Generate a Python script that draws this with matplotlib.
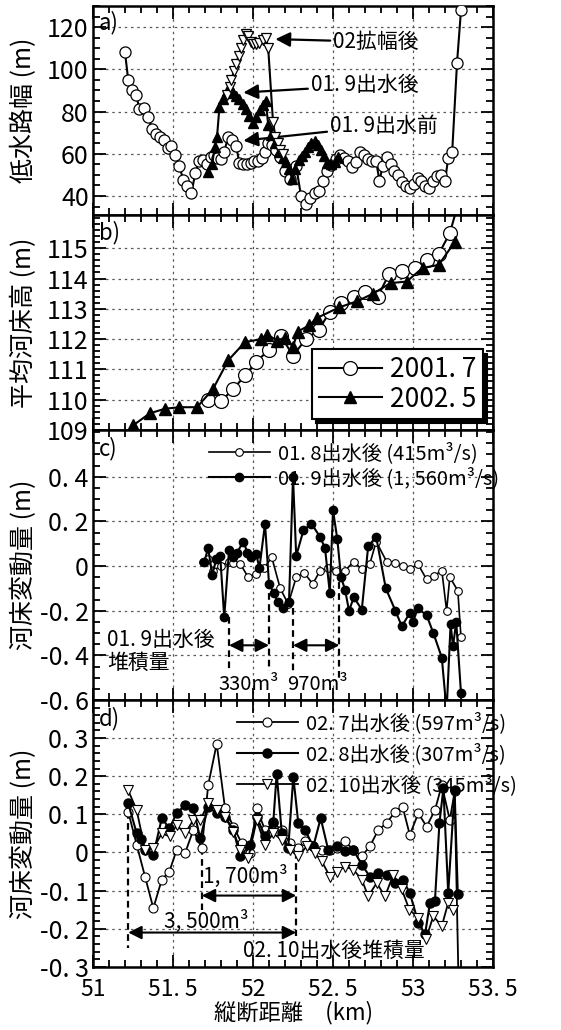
import matplotlib
matplotlib.use('Agg')
import matplotlib.pyplot as plt
from matplotlib.ticker import MultipleLocator

plt.rcParams['font.family'] = ['Noto Sans CJK JP', 'DejaVu Sans']
NUM_FONT = ['Liberation Sans Narrow', 'Noto Sans CJK JP', 'DejaVu Sans']

# a) low-water channel width (m)
a_x_before = [51.20, 51.22, 51.245, 51.27, 51.29, 51.32, 51.345, 51.37, 51.395, 51.42,
              51.445, 51.47, 51.49, 51.515, 51.54, 51.565, 51.59, 51.615, 51.64, 51.66,
              51.685, 51.71, 51.735, 51.755, 51.775, 51.80, 51.82, 51.845, 51.87, 51.895,
              51.915, 51.94, 51.965, 51.985, 52.005, 52.03, 52.055, 52.075, 52.095, 52.12,
              52.145, 52.17, 52.20, 52.23, 52.27, 52.30, 52.33, 52.355, 52.385, 52.41,
              52.44, 52.465, 52.49, 52.52, 52.545, 52.57, 52.595, 52.62, 52.645, 52.67,
              52.695, 52.72, 52.745, 52.77, 52.79, 52.81, 52.835, 52.86, 52.88, 52.905,
              52.93, 52.955, 52.98, 53.005, 53.03, 53.05, 53.075, 53.10, 53.125, 53.15,
              53.175, 53.20, 53.22, 53.245, 53.275, 53.30]
a_y_before = [108, 95, 90, 88, 81, 81.5, 77.5, 71.5, 69.5, 68,
              66.5, 62.5, 63.5, 59.5, 54, 47.5, 44.5, 41.5, 51, 56.5,
              57, 55, 58.5, 59.5, 58, 57.5, 61, 68, 66.5, 63.5,
              55.5, 55, 55, 55.5, 56.5, 56.5, 58, 61, 65, 64,
              62, 58.5, 52, 48, 54, 40, 36, 39, 41.5, 42.5,
              47, 52, 54.5, 57.5, 59.5, 58, 56.5, 53.5, 56, 61,
              59.5, 57.5, 56.5, 56.5, 47, 54, 58.5, 55, 52, 50,
              46.5, 44.5, 44, 45.5, 48.5, 47, 44.5, 44, 47, 49.5,
              50, 47, 58, 61, 103, 128]
a_x_after = [51.72, 51.745, 51.76, 51.775, 51.79, 51.81, 51.835, 51.855, 51.875, 51.895,
             51.915, 51.935, 51.955, 51.975, 52.0, 52.02, 52.045, 52.065, 52.08, 52.095,
             52.115, 52.135, 52.16, 52.185, 52.205, 52.225, 52.245, 52.265, 52.285, 52.305,
             52.325, 52.345, 52.365, 52.385, 52.405, 52.425, 52.445, 52.465, 52.49, 52.51,
             52.53]
a_y_after = [51.5, 55, 63, 68, 82, 86, 89.5, 91.5, 89, 87.5,
             86, 83.5, 81, 78, 74.5, 77.5, 80.5, 83, 85, 73.5,
             69, 65, 61, 58, 56, 53, 48, 53, 57, 59,
             61, 63, 65, 66, 64, 62, 59, 55.5, 55, 56,
             58.5]
a_x_widen = [51.84, 51.855, 51.865, 51.88, 51.895, 51.91, 51.925, 51.94, 51.955, 51.97,
             51.985, 52.0, 52.02, 52.04, 52.06, 52.08, 52.095, 52.125, 52.14, 52.155,
             52.17, 52.185]
a_y_widen = [88, 91.5, 95, 99, 102.5, 106.5, 110, 114, 116.5, 116,
             113, 112, 112, 112.5, 114, 115, 110, 75, 68, 65,
             62, 60]

# b) mean bed elevation (m)
b_x_2001 = [51.72, 51.80, 51.877, 51.95, 52.02, 52.10, 52.175, 52.25, 52.33, 52.41,
            52.48, 52.55, 52.63, 52.70, 52.78, 52.85, 52.93, 53.01, 53.085, 53.16,
            53.23, 53.30]
b_y_2001 = [110.0, 109.95, 110.35, 110.8, 111.25, 111.65, 112.1, 111.45, 112.0, 112.3,
            112.9, 113.2, 113.4, 113.55, 113.4, 114.15, 114.25, 114.35, 114.6, 114.8,
            115.5, 116.8]
b_x_2002 = [51.25, 51.356, 51.45, 51.54, 51.65, 51.75, 51.845, 51.95, 52.05, 52.09,
            52.15, 52.20, 52.25, 52.28, 52.35, 52.40, 52.54, 52.65, 52.75, 52.86,
            52.96, 53.06, 53.16, 53.26]
b_y_2002 = [109.15, 109.55, 109.7, 109.75, 109.75, 110.35, 111.3, 111.9, 112.0, 112.15,
            111.95, 112.05, 111.75, 112.25, 112.45, 112.7, 113.05, 113.25, 113.5, 113.85,
            113.9, 114.35, 114.45, 115.2]
b_labels = ['2001. 7', '2002. 5']

# c) bed change after 2001 floods (m)
c_x_0108 = [51.69, 51.72, 51.75, 51.80, 51.85, 51.877, 51.92, 51.97, 52.02, 52.07,
            52.117, 52.17, 52.22, 52.27, 52.32, 52.373, 52.42, 52.47, 52.52, 52.575,
            52.63, 52.68, 52.73, 52.77, 52.835, 52.89, 52.935, 52.98, 53.03, 53.085,
            53.13, 53.18, 53.21, 53.23, 53.28, 53.30]
c_y_0108 = [0.02, 0.03, -0.02, 0.0, 0.02, 0.015, 0.01, -0.05, -0.035, -0.01,
            0.04, -0.10, -0.17, -0.05, -0.03, -0.08, -0.02, -0.01, -0.02, -0.02,
            0.02, -0.015, 0.01, 0.11, 0.02, 0.015, 0.0, -0.015, 0.01, -0.06,
            -0.045, -0.02, -0.20, -0.05, -0.11, -0.32]
c_x_0109 = [51.695, 51.72, 51.745, 51.77, 51.795, 51.82, 51.85, 51.877, 51.90, 51.94,
            51.965, 51.99, 52.02, 52.04, 52.075, 52.10, 52.13, 52.155, 52.19, 52.225,
            52.25, 52.27, 52.315, 52.365, 52.42, 52.45, 52.48, 52.50, 52.527, 52.55,
            52.575, 52.60, 52.63, 52.68, 52.72, 52.77, 52.83, 52.89, 52.93, 52.98,
            53.00, 53.03, 53.085, 53.127, 53.18, 53.21, 53.235, 53.25, 53.27, 53.30]
c_y_0109 = [0.02, 0.08, -0.04, 0.03, 0.045, -0.23, 0.07, 0.04, 0.06, 0.11,
            0.06, 0.04, 0.055, -0.01, 0.19, -0.08, -0.12, -0.16, -0.19, -0.16,
            0.40, 0.045, 0.16, 0.19, 0.13, 0.08, -0.12, 0.25, 0.12, -0.05,
            -0.105, -0.20, -0.14, -0.195, 0.09, 0.13, -0.10, -0.20, -0.27, -0.21,
            -0.25, -0.19, -0.22, -0.30, -0.41, -0.65, -0.26, -0.36, -0.25, -0.57]
c_labels = ['01. 8出水後 (415m³/s)', '01. 9出水後 (1, 560m³/s)']

# d) bed change after 2002 floods (m)
d_x_0207 = [51.22, 51.273, 51.325, 51.377, 51.43, 51.477, 51.523, 51.575, 51.627, 51.68,
            51.72, 51.773, 51.825, 51.877, 51.93, 51.98, 52.023, 52.075, 52.127, 52.18,
            52.23, 52.283, 52.325, 52.377, 52.43, 52.48, 52.523, 52.575, 52.627, 52.68,
            52.73, 52.783, 52.835, 52.888, 52.935, 52.98, 53.033, 53.085, 53.137, 53.18,
            53.23, 53.26, 53.29]
d_y_0207 = [0.107, 0.02, -0.063, -0.146, -0.071, -0.05, 0.007, -0.002, 0.059, 0.011,
            0.177, 0.285, 0.116, 0.068, 0.024, -0.002, 0.116, 0.059, 0.077, 0.059,
            0.024, 0.011, 0.029, 0.016, 0.007, 0.007, 0.011, 0.029, 0.007, -0.01,
            0.016, 0.059, 0.077, 0.107, 0.12, 0.046, 0.103, 0.068, 0.111, 0.177,
            0.085, 0.16, -0.45]
d_x_0208 = [51.22, 51.273, 51.30, 51.325, 51.377, 51.43, 51.477, 51.523, 51.575, 51.627,
            51.67, 51.72, 51.773, 51.825, 51.877, 51.92, 51.98, 52.023, 52.075, 52.127,
            52.148, 52.18, 52.22, 52.252, 52.283, 52.325, 52.377, 52.423, 52.47, 52.523,
            52.575, 52.627, 52.68, 52.73, 52.783, 52.835, 52.888, 52.935, 52.98, 53.033,
            53.075, 53.106, 53.137, 53.165, 53.19, 53.22, 53.26, 53.28]
d_y_0208 = [0.129, 0.05, 0.035, 0.007, -0.006, 0.09, 0.063, 0.103, 0.124, 0.116,
            0.037, 0.12, 0.103, 0.094, 0.059, -0.01, 0.02, 0.094, 0.042, 0.081,
            0.207, 0.05, 0.011, 0.198, 0.077, 0.059, 0.016, 0.09, 0.007, 0.016,
            0.003, 0.007, -0.032, -0.063, -0.054, -0.058, -0.08, -0.071, -0.106, -0.184,
            -0.215, -0.132, -0.128, 0.077, 0.168, -0.106, 0.163, -0.11]
d_x_0210 = [51.22, 51.273, 51.325, 51.377, 51.43, 51.48, 51.523, 51.575, 51.627, 51.67,
            51.72, 51.773, 51.825, 51.877, 51.92, 51.97, 52.023, 52.075, 52.127, 52.18,
            52.23, 52.283, 52.335, 52.387, 52.43, 52.48, 52.523, 52.575, 52.627, 52.68,
            52.72, 52.773, 52.825, 52.877, 52.93, 52.977, 53.033, 53.08, 53.127, 53.18,
            53.22, 53.25]
d_y_0210 = [0.163, 0.111, 0.007, 0.011, 0.05, 0.042, 0.072, 0.05, 0.085, 0.085,
            0.129, 0.111, 0.094, 0.055, 0.007, -0.015, 0.085, 0.02, 0.05, 0.033,
            0.007, -0.01, 0.016, -0.002, -0.023, -0.063, -0.05, -0.037, -0.045, -0.071,
            -0.115, -0.08, -0.115, -0.058, -0.097, -0.15, -0.171, -0.228, -0.167, -0.193,
            -0.132, -0.15]
d_labels = ['02. 7出水後 (597m³/s)', '02. 8出水後 (307m³/s)', '02. 10出水後 (345m³/s)']

x_ticks = [51, 51.5, 52, 52.5, 53, 53.5]


def lab(v):
    s = '%g' % round(v, 2)
    return s.replace('.', '. ')


def style_axis(ax, yticks, ylim, ymin, ylabel, letter, show_x=False):
    ax.set_xlim(51, 53.5)
    ax.set_ylim(*ylim)
    ax.set_xticks(x_ticks)
    ax.xaxis.set_minor_locator(MultipleLocator(0.1))
    ax.set_yticks(yticks)
    ax.yaxis.set_minor_locator(MultipleLocator(ymin))
    ax.set_yticklabels([lab(v) for v in yticks], family=NUM_FONT, fontsize=18)
    if show_x:
        ax.set_xticklabels([lab(v) for v in x_ticks], family=NUM_FONT, fontsize=16.5)
    else:
        ax.set_xticklabels([])
    ax.tick_params(which='both', direction='in', top=True, right=True, width=1.3)
    ax.tick_params(which='major', length=9, pad=3)
    ax.tick_params(which='minor', length=5)
    ax.tick_params(axis='x', which='major', pad=8)
    ax.grid(True, which='major', ls=(0, (2, 3)), color='0.35', lw=0.9)
    for sp in ax.spines.values():
        sp.set_linewidth(1.8)
    ax.set_ylabel(ylabel, fontsize=18)
    ax.text(0.015, 0.975, letter, transform=ax.transAxes, ha='left', va='top',
            fontsize=16, family=NUM_FONT)


fig = plt.figure(figsize=(5.61, 10.30), dpi=100)
L, W = 0.1658, 0.713
ax_a = fig.add_axes([L, 0.7913, W, 0.2029])
ax_b = fig.add_axes([L, 0.5826, W, 0.2087])
ax_c = fig.add_axes([L, 0.3204, W, 0.2622])
ax_d = fig.add_axes([L, 0.0613, W, 0.2591])

open_kw = dict(color='k', mfc='white', mec='k', mew=0.9, lw=1.5)
fill_kw = dict(color='k', mfc='k', mec='k', lw=1.5)

# ---- a)
ax_a.plot(a_x_before, a_y_before, marker='o', ms=8, zorder=3, **open_kw)
ax_a.plot(a_x_after, a_y_after, marker='^', ms=7, zorder=4, **fill_kw)
ax_a.plot(a_x_widen, a_y_widen, marker='v', ms=7.5, zorder=5, **open_kw)
arr = dict(arrowstyle='-|>', color='k', lw=1.6, mutation_scale=22, shrinkA=0, shrinkB=0)
ax_a.annotate('02拡幅後', xy=(52.14, 114.3), xytext=(52.5, 113), va='center',
              ha='left', fontsize=15, arrowprops=arr)
ax_a.annotate('01. 9出水後', xy=(51.94, 89), xytext=(52.36, 92.4), va='center',
              ha='left', fontsize=15, arrowprops=arr)
ax_a.annotate('01. 9出水前', xy=(51.94, 66.2), xytext=(52.48, 73.3), va='center',
              ha='left', fontsize=15, arrowprops=arr)
style_axis(ax_a, [40, 60, 80, 100, 120], (31, 130), 5, '低水路幅 (m)', 'a)')

# ---- b)
ax_b.plot(b_x_2001, b_y_2001, marker='o', ms=10, label=b_labels[0], zorder=3, **open_kw)
ax_b.plot(b_x_2002, b_y_2002, marker='^', ms=9, label=b_labels[1], zorder=4, **fill_kw)
style_axis(ax_b, [109, 110, 111, 112, 113, 114, 115], (109, 116.1), 0.2,
           '平均河床高 (m)', 'b)')
leg = ax_b.legend(loc='lower right', bbox_to_anchor=(0.975, 0.05),
                  prop={'family': NUM_FONT, 'size': 19}, frameon=True, fancybox=False,
                  edgecolor='k', framealpha=1, handlelength=2.4, borderpad=0.25,
                  labelspacing=0.1, borderaxespad=0, handletextpad=0.3,
                  shadow={'ox': 3, 'oy': -3, 'color': 'k', 'alpha': 1})
leg.get_frame().set_linewidth(1.5)

# ---- c)
ax_c.plot(c_x_0108, c_y_0108, marker='o', ms=5.5, lw=1.2, color='k', mfc='white',
          mec='k', mew=0.8, label=c_labels[0], zorder=3)
ax_c.plot(c_x_0109, c_y_0109, marker='o', ms=6, label=c_labels[1], zorder=4, **fill_kw)
dash = dict(color='k', ls=(0, (3, 2)), lw=1.6, zorder=2)
for x0, y0, y1 in [(51.85, -0.23, -0.47), (52.10, -0.07, -0.47),
                   (52.25, -0.19, -0.48), (52.54, -0.02, -0.5)]:
    ax_c.plot([x0, x0], [y0, y1], **dash)
dbl = dict(arrowstyle='<|-|>', color='k', lw=1.5, mutation_scale=20, shrinkA=0, shrinkB=0)
ax_c.annotate('', xy=(51.85, -0.355), xytext=(52.10, -0.355), arrowprops=dbl)
ax_c.annotate('', xy=(52.25, -0.355), xytext=(52.54, -0.355), arrowprops=dbl)
ax_c.text(51.97, -0.53, '330m³', ha='center', va='center', fontsize=14.5)
ax_c.text(52.40, -0.53, '970m³', ha='center', va='center', fontsize=14.5)
ax_c.text(51.09, -0.28, '01. 9出水後\n堆積量', ha='left', va='top', fontsize=15,
          linespacing=1.05)
style_axis(ax_c, [-0.6, -0.4, -0.2, 0, 0.2, 0.4], (-0.6, 0.61), 0.05,
           '河床変動量 (m)', 'c)')
ax_c.legend(loc='upper left', bbox_to_anchor=(0.26, 1.0), frameon=False, fontsize=14.5,
            handlelength=3.0, labelspacing=0.15, borderaxespad=0.2, handletextpad=0.4)

# ---- d)
ax_d.plot(d_x_0207, d_y_0207, marker='o', ms=6.5, lw=1.3, color='k', mfc='white',
          mec='k', mew=0.8, label=d_labels[0], zorder=3)
ax_d.plot(d_x_0208, d_y_0208, marker='o', ms=6.5, label=d_labels[1], zorder=4, **fill_kw)
ax_d.plot(d_x_0210, d_y_0210, marker='v', ms=6.5, lw=1.3, color='k', mfc='white',
          mec='k', mew=0.8, label=d_labels[2], zorder=5)
for x0, y0, y1 in [(51.22, 0.107, -0.25), (51.68, 0.011, -0.15), (52.27, 0.0, -0.22)]:
    ax_d.plot([x0, x0], [y0, y1], **dash)
ax_d.annotate('', xy=(51.68, -0.113), xytext=(52.27, -0.113), arrowprops=dbl)
ax_d.annotate('', xy=(51.22, -0.21), xytext=(52.27, -0.21), arrowprops=dbl)
ax_d.text(51.95, -0.063, '1, 700m³', ha='center', va='center', fontsize=15)
ax_d.text(51.71, -0.182, '3, 500m³', ha='center', va='center', fontsize=15)
ax_d.text(51.94, -0.257, '02. 10出水後堆積量', ha='left', va='center', fontsize=15)
style_axis(ax_d, [-0.3, -0.2, -0.1, 0, 0.1, 0.2, 0.3], (-0.3, 0.4), 0.02,
           '河床変動量 (m)', 'd)', show_x=True)
ax_d.legend(loc='upper left', bbox_to_anchor=(0.33, 1.0), frameon=False, fontsize=14.5,
            handlelength=3.0, labelspacing=0.45, borderaxespad=0.2, handletextpad=0.4)
ax_d.set_xlabel('縦断距離　(km)', fontsize=16, labelpad=0)

for ax in (ax_a, ax_b, ax_c, ax_d):
    ax.yaxis.set_label_coords(-0.14, 0.5)

fig.savefig('out.png', dpi=100)
